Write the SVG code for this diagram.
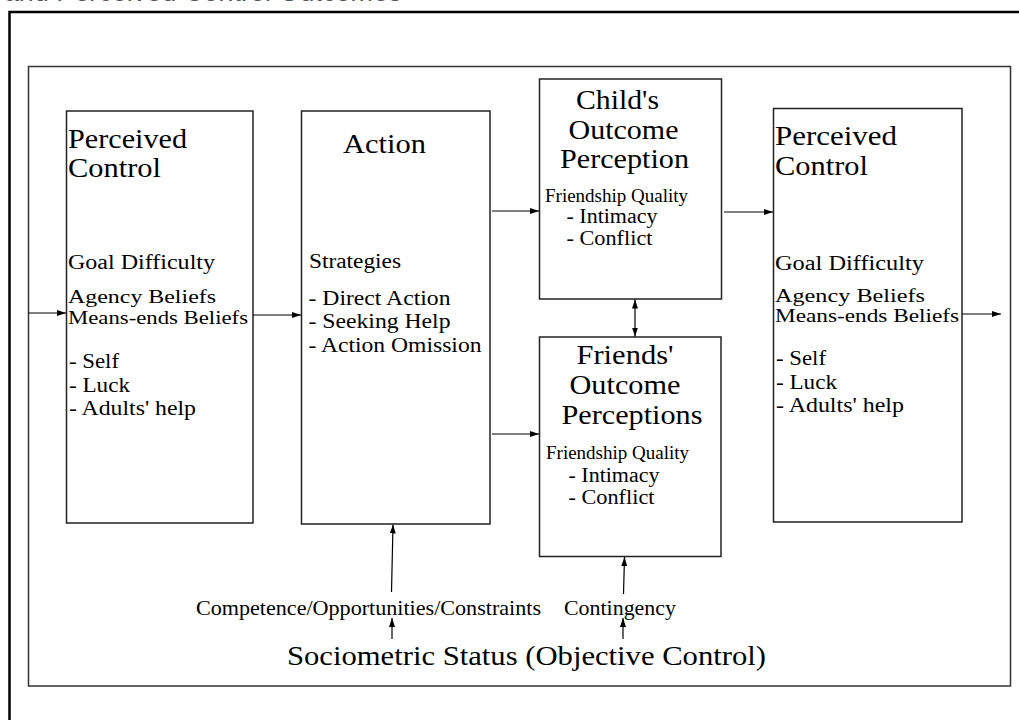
<svg xmlns="http://www.w3.org/2000/svg" width="1019" height="720" viewBox="0 0 1019 720">
  <defs>
    <marker id="arrow" markerUnits="userSpaceOnUse" markerWidth="9" markerHeight="6" refX="9" refY="3" orient="auto-start-reverse">
      <path d="M0,0 L9,3 L0,6 z" fill="#000"/>
    </marker>
    <style>
      .frame-outer { fill: none; stroke: #000; stroke-width: 2.5; }
      .frame-inner { fill: none; stroke: #333; stroke-width: 1.5; }
      .box { fill: #fff; stroke: #222; stroke-width: 1.5; }
      .conn { fill: none; stroke: #000; stroke-width: 1.2; marker-end: url(#arrow); }
      .both { marker-start: url(#arrow); }
      text { font-family: "Liberation Serif", "Times New Roman", serif; fill: #000; }
      .title { font-size: 28px; }
      .body { font-size: 20px; }
      .tight { font-size: 19px; }
      .small { font-size: 20px; }
      .fq { font-size: 19px; }
      .label { font-size: 21px; }
      .caption { font-family: "Liberation Sans", Arial, sans-serif; font-style: italic; font-size: 27px; fill: #555; }
    </style>
  </defs>

  <rect width="1019" height="720" fill="#fff"/>

  <!-- heading line, running off the top edge -->
  <text class="caption" x="5" y="1">and Perceived Control Outcomes</text>

  <!-- frames -->
  <rect class="frame-outer" x="9.5" y="12" width="1030" height="730"/>
  <rect class="frame-inner" x="28.5" y="66.5" width="982" height="619.5"/>

  <!-- Perceived Control (time 1) -->
  <g id="perceived-control-1">
    <rect class="box" x="66.5" y="111" width="186.5" height="412"/>
    <text class="title" x="68" y="148" textLength="119" lengthAdjust="spacingAndGlyphs">Perceived</text>
    <text class="title" x="68" y="177" textLength="93" lengthAdjust="spacingAndGlyphs">Control</text>
    <text class="body" x="68" y="269" textLength="147" lengthAdjust="spacingAndGlyphs">Goal Difficulty</text>
    <text class="tight" x="68" y="303" textLength="148" lengthAdjust="spacingAndGlyphs">Agency Beliefs</text>
    <text class="tight" x="68" y="323.5" textLength="180" lengthAdjust="spacingAndGlyphs">Means-ends Beliefs</text>
    <text class="body" x="69" y="368" textLength="50" lengthAdjust="spacingAndGlyphs">- Self</text>
    <text class="body" x="69" y="391.5" textLength="61" lengthAdjust="spacingAndGlyphs">- Luck</text>
    <text class="body" x="69" y="415" textLength="127" lengthAdjust="spacingAndGlyphs">- Adults' help</text>
  </g>

  <!-- Action -->
  <g id="action">
    <rect class="box" x="301.5" y="111" width="188.5" height="413"/>
    <text class="title" x="343" y="153" textLength="83" lengthAdjust="spacingAndGlyphs">Action</text>
    <text class="body" x="309" y="268" textLength="92" lengthAdjust="spacingAndGlyphs">Strategies</text>
    <text class="body" x="308.5" y="305" textLength="142" lengthAdjust="spacingAndGlyphs">- Direct Action</text>
    <text class="body" x="308.5" y="328" textLength="142" lengthAdjust="spacingAndGlyphs">- Seeking Help</text>
    <text class="body" x="308.5" y="351.5" textLength="173" lengthAdjust="spacingAndGlyphs">- Action Omission</text>
  </g>

  <!-- Child's Outcome Perception -->
  <g id="child-outcome">
    <rect class="box" x="539.5" y="79" width="182" height="220"/>
    <text class="title" x="576" y="109" textLength="83" lengthAdjust="spacingAndGlyphs">Child's</text>
    <text class="title" x="568.5" y="139" textLength="110" lengthAdjust="spacingAndGlyphs">Outcome</text>
    <text class="title" x="560" y="168" textLength="129" lengthAdjust="spacingAndGlyphs">Perception</text>
    <text class="fq" x="545" y="201.5" textLength="143" lengthAdjust="spacingAndGlyphs">Friendship Quality</text>
    <text class="small" x="566.5" y="223" textLength="91" lengthAdjust="spacingAndGlyphs">- Intimacy</text>
    <text class="small" x="566.5" y="245" textLength="86" lengthAdjust="spacingAndGlyphs">- Conflict</text>
  </g>

  <!-- Friends' Outcome Perceptions -->
  <g id="friends-outcome">
    <rect class="box" x="539.5" y="337" width="181.5" height="219.5"/>
    <text class="title" x="576.5" y="363.5" textLength="97" lengthAdjust="spacingAndGlyphs">Friends'</text>
    <text class="title" x="569.5" y="394" textLength="111" lengthAdjust="spacingAndGlyphs">Outcome</text>
    <text class="title" x="561.5" y="423.5" textLength="141" lengthAdjust="spacingAndGlyphs">Perceptions</text>
    <text class="fq" x="546" y="458.5" textLength="143" lengthAdjust="spacingAndGlyphs">Friendship Quality</text>
    <text class="small" x="568.5" y="481.5" textLength="91" lengthAdjust="spacingAndGlyphs">- Intimacy</text>
    <text class="small" x="568.5" y="504" textLength="86" lengthAdjust="spacingAndGlyphs">- Conflict</text>
  </g>

  <!-- Perceived Control (time 2) -->
  <g id="perceived-control-2">
    <rect class="box" x="773.5" y="108.5" width="188.5" height="413.5"/>
    <text class="title" x="775" y="145" textLength="122" lengthAdjust="spacingAndGlyphs">Perceived</text>
    <text class="title" x="775" y="175" textLength="93" lengthAdjust="spacingAndGlyphs">Control</text>
    <text class="body" x="775" y="270" textLength="149" lengthAdjust="spacingAndGlyphs">Goal Difficulty</text>
    <text class="tight" x="775" y="301.5" textLength="150" lengthAdjust="spacingAndGlyphs">Agency Beliefs</text>
    <text class="tight" x="775" y="321.5" textLength="184" lengthAdjust="spacingAndGlyphs">Means-ends Beliefs</text>
    <text class="body" x="776" y="365" textLength="50" lengthAdjust="spacingAndGlyphs">- Self</text>
    <text class="body" x="776" y="388.5" textLength="61" lengthAdjust="spacingAndGlyphs">- Luck</text>
    <text class="body" x="776" y="411.5" textLength="128" lengthAdjust="spacingAndGlyphs">- Adults' help</text>
  </g>

  <!-- Objective control labels -->
  <g id="objective-control">
    <text class="label" x="196" y="615" textLength="345" lengthAdjust="spacingAndGlyphs">Competence/Opportunities/Constraints</text>
    <text class="label" x="564" y="615" textLength="112" lengthAdjust="spacingAndGlyphs">Contingency</text>
    <text class="title" x="287" y="665" textLength="479" lengthAdjust="spacingAndGlyphs">Sociometric Status (Objective Control)</text>
  </g>

  <!-- connectors -->
  <g id="connectors">
    <path class="conn" d="M28.5,313 H66"/>
    <path class="conn" d="M253,315 H301"/>
    <path class="conn" d="M492,211 H539"/>
    <path class="conn" d="M492,434 H539"/>
    <path class="conn" d="M724,212 H773"/>
    <path class="conn both" d="M635,299.5 V336.5"/>
    <path class="conn" d="M962,314 H1001"/>
    <path class="conn" d="M391.5,592 L393,524.5"/>
    <path class="conn" d="M392,639 V618"/>
    <path class="conn" d="M623.5,594 L624.5,557"/>
    <path class="conn" d="M623,639 V618"/>
  </g>
</svg>
